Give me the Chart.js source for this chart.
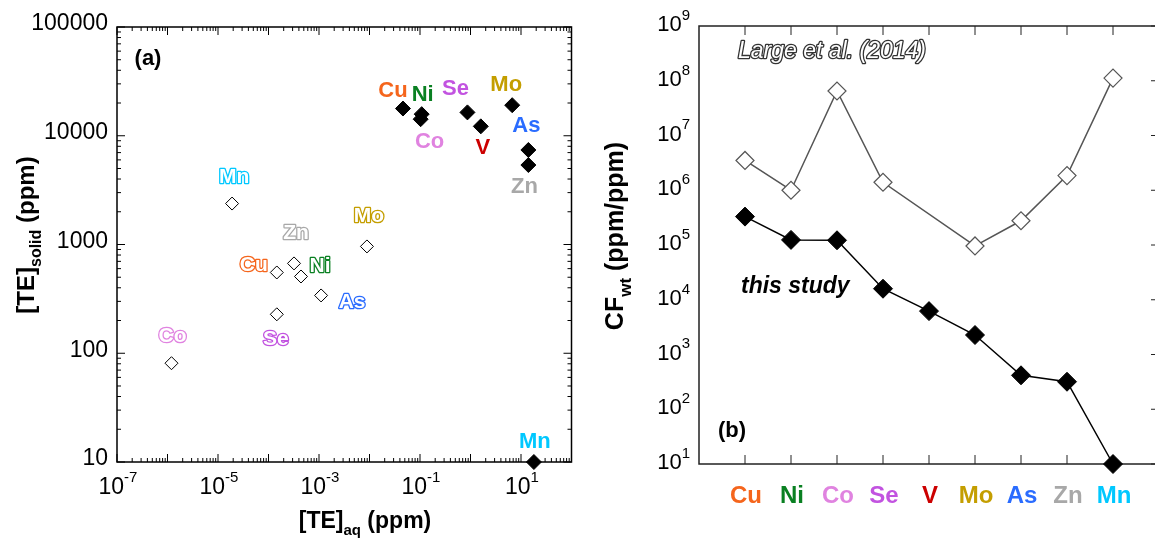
<!DOCTYPE html>
<html>
<head>
<meta charset="utf-8">
<script src="https://cdn.jsdelivr.net/npm/chart.js@4.4.1/dist/chart.umd.min.js"></script>
<style>
html, body { margin: 0; padding: 0; background: #fff; overflow: hidden; width: 1155px; height: 544px; }
canvas { position: absolute; top: 0; }
#left { left: 0; }
#right { left: 580px; }
</style>
</head>
<body>
<canvas id="left" width="580" height="544"></canvas>
<canvas id="right" width="600" height="544"></canvas>
<script>
// ====== DATA ======
const elements = ['Cu', 'Ni', 'Co', 'Se', 'V', 'Mo', 'As', 'Zn', 'Mn'];
const elementColors = ['#f5651c', '#0a8022', '#e083e0', '#c253e0', '#cc0000', '#c49e00', '#2a6cff', '#a8a8a8', '#00c8ff'];

// (a) this study (filled)
const aqThis = [0.046, 0.108, 0.103, 0.87, 1.6, 6.7, 14, 14, 18];
const solidThis = [17800, 15800, 14200, 16400, 12200, 19100, 7400, 5380, 10];
// (a) Large et al. (2014) (open), no V
const aqLarge = [1.46e-4, 4.4e-4, 1.2e-6, 1.46e-4, null, 8.9e-3, 1.1e-3, 3.2e-4, 1.9e-5];
const solidLarge = [553, 508, 81, 228, null, 960, 340, 670, 2380];

// (b) CF wt
const cfThis = [3.3e5, 1.24e5, 1.22e5, 1.59e4, 6.2e3, 2.27e3, 417, 318, 10];
const cfLarge = [3.5e6, 1.0e6, 6.5e7, 1.4e6, null, 9.6e4, 2.77e5, 1.85e6, 1.12e8];

// label offsets (px) from the marker, panel (a)
const offThis = [[-10, -18], [1, -19], [9, 23], [-12, -23], [2, 22], [-6, -20], [-2, -24], [-4, 22], [1, -20]];
const offLarge = [[-23, -7], [19, -10], [1, -27], [-1, 25], null, [2, -30], [31, 7], [2, -30], [2, -26]];

const FONT = '"Liberation Sans", Arial, Helvetica, sans-serif';

// ====== HELPERS ======
function supText(ctx, base, sup, x, y, align, size) {
  const supSize = Math.round(size * 0.66);
  ctx.font = size + 'px ' + FONT;
  const wb = ctx.measureText(base).width;
  ctx.font = supSize + 'px ' + FONT;
  const ws = ctx.measureText(sup).width;
  let x0 = x;
  if (align === 'right') x0 = x - wb - ws;
  else if (align === 'center') x0 = x - (wb + ws) / 2;
  ctx.textAlign = 'left';
  ctx.textBaseline = 'middle';
  ctx.fillStyle = '#000';
  ctx.font = size + 'px ' + FONT;
  ctx.fillText(base, x0, y);
  ctx.font = supSize + 'px ' + FONT;
  ctx.fillText(sup, x0 + wb, y - size * 0.42);
}

// bold title with subscript parts, centred on (cx, cy)
function subTitle(ctx, parts, cx, cy, size) {
  const subSize = Math.round(size * 0.66);
  let total = 0;
  parts.forEach(p => {
    ctx.font = 'bold ' + (p.sub ? subSize : size) + 'px ' + FONT;
    p.w = ctx.measureText(p.t).width;
    total += p.w;
  });
  let x = cx - total / 2;
  ctx.textAlign = 'left';
  ctx.textBaseline = 'middle';
  ctx.fillStyle = '#000';
  parts.forEach(p => {
    ctx.font = 'bold ' + (p.sub ? subSize : size) + 'px ' + FONT;
    ctx.fillText(p.t, x, p.sub ? cy + size * 0.4 : cy);
    x += p.w;
  });
}

function outlineText(ctx, txt, x, y, color, font, align) {
  ctx.font = font;
  ctx.textAlign = align || 'center';
  ctx.textBaseline = 'middle';
  ctx.lineJoin = 'round';
  ctx.lineWidth = 2.6;
  ctx.strokeStyle = color;
  ctx.strokeText(txt, x, y);
  ctx.fillStyle = '#fff';
  ctx.fillText(txt, x, y);
}

function line(ctx, x1, y1, x2, y2) {
  ctx.beginPath();
  ctx.moveTo(x1, y1);
  ctx.lineTo(x2, y2);
  ctx.stroke();
}

// ====== PANEL (a) ======
const leftDecor = {
  id: 'leftDecor',
  beforeDatasetsDraw(chart) {
    const { ctx, chartArea: a, scales: { x, y } } = chart;
    ctx.save();
    ctx.strokeStyle = '#000';
    ctx.lineWidth = 1.5;
    ctx.strokeRect(a.left, a.top, a.right - a.left, a.bottom - a.top);
    ctx.lineWidth = 1;
    for (let e = -7; e <= 2; e++) {
      for (let m = 1; m <= 9; m++) {
        const v = m * Math.pow(10, e);
        if (v > 100.0001) break;
        const px = x.getPixelForValue(v);
        const len = m === 1 ? 8 : 4;
        line(ctx, px, a.bottom, px, a.bottom - len);
        line(ctx, px, a.top, px, a.top + len);
      }
    }
    for (let e = 1; e <= 5; e++) {
      for (let m = 1; m <= 9; m++) {
        const v = m * Math.pow(10, e);
        if (v > 100000.1) break;
        const py = y.getPixelForValue(v);
        const len = m === 1 ? 8 : 4;
        line(ctx, a.left, py, a.left + len, py);
        line(ctx, a.right, py, a.right - len, py);
      }
    }
    ctx.restore();
  },
  afterDraw(chart) {
    const { ctx, chartArea: a, scales: { x, y } } = chart;
    ctx.save();
    // y tick labels
    ctx.fillStyle = '#000';
    ctx.font = '23px ' + FONT;
    ctx.textAlign = 'right';
    ctx.textBaseline = 'middle';
    [10, 100, 1000, 10000, 100000].forEach(v => {
      ctx.fillText(String(v), 108, y.getPixelForValue(v) - 3);
    });
    // x tick labels
    [-7, -5, -3, -1, 1].forEach(e => {
      supText(ctx, '10', String(e), x.getPixelForValue(Math.pow(10, e)) + 1, 488, 'center', 23);
    });
    // axis titles
    subTitle(ctx, [{ t: '[TE]' }, { t: 'aq', sub: true }, { t: ' (ppm)' }], 365, 522, 23);
    ctx.save();
    ctx.translate(27, 235);
    ctx.rotate(-Math.PI / 2);
    subTitle(ctx, [{ t: '[TE]' }, { t: 'solid', sub: true }, { t: ' (ppm)' }], 0, 0, 24);
    ctx.restore();
    // panel letter
    ctx.fillStyle = '#000';
    ctx.font = 'bold 22px ' + FONT;
    ctx.textAlign = 'center';
    ctx.textBaseline = 'middle';
    ctx.fillText('(a)', 148, 59);
    // element labels
    elements.forEach((el, i) => {
      const o = offThis[i];
      ctx.fillStyle = elementColors[i];
      ctx.font = 'bold 22px ' + FONT;
      ctx.textAlign = 'center';
      ctx.fillText(el, x.getPixelForValue(aqThis[i]) + o[0], y.getPixelForValue(solidThis[i]) + o[1]);
      if (aqLarge[i] != null) {
        const q = offLarge[i];
        outlineText(ctx, el, x.getPixelForValue(aqLarge[i]) + q[0], y.getPixelForValue(solidLarge[i]) + q[1],
          elementColors[i], 'bold 21px ' + FONT);
      }
    });
    ctx.restore();
  }
};

function pairs(xs, ys) {
  return xs.map((v, i) => ({ x: v, y: ys[i] })).filter(p => p.x != null && p.y != null);
}

new Chart(document.getElementById('left'), {
  type: 'scatter',
  data: {
    datasets: [
      {
        label: 'Large et al. (2014)',
        data: pairs(aqLarge, solidLarge),
        pointStyle: 'rectRot',
        pointRadius: 6.5,
        backgroundColor: '#fff',
        borderColor: '#000',
        borderWidth: 1,
        clip: false
      },
      {
        label: 'this study',
        data: pairs(aqThis, solidThis),
        pointStyle: 'rectRot',
        pointRadius: 7.5,
        backgroundColor: '#000',
        borderColor: '#000',
        borderWidth: 1,
        clip: false
      }
    ]
  },
  options: {
    responsive: false,
    animation: false,
    events: [],
    layout: { padding: { left: 117, top: 27, right: 3, bottom: 82 } },
    plugins: { legend: { display: false }, tooltip: { enabled: false } },
    scales: {
      x: { type: 'logarithmic', min: 1e-7, max: 100, display: false },
      y: { type: 'logarithmic', min: 10, max: 1e5, display: false }
    }
  },
  plugins: [leftDecor]
});

// ====== PANEL (b) ======
const rightDecor = {
  id: 'rightDecor',
  beforeDatasetsDraw(chart) {
    const { ctx, chartArea: a, scales: { x, y } } = chart;
    ctx.save();
    ctx.strokeStyle = '#222';
    ctx.lineWidth = 1.5;
    ctx.strokeRect(a.left, a.top, a.right - a.left, a.bottom - a.top);
    ctx.lineWidth = 1;
    elements.forEach((el, i) => {
      const px = x.getPixelForValue(i);
      line(ctx, px, a.bottom, px, a.bottom - 9);
      line(ctx, px, a.top, px, a.top + 9);
    });
    for (let e = 1; e <= 9; e++) {
      const py = y.getPixelForValue(Math.pow(10, e));
      line(ctx, a.right, py, a.right - 8, py);
    }
    ctx.restore();
  },
  afterDraw(chart) {
    const { ctx, chartArea: a, scales: { x, y } } = chart;
    ctx.save();
    // y tick labels
    for (let e = 1; e <= 9; e++) {
      supText(ctx, '10', String(e), a.left - 9, y.getPixelForValue(Math.pow(10, e)) - 1, 'right', 22);
    }
    // category labels
    ctx.font = 'bold 24px ' + FONT;
    ctx.textAlign = 'center';
    ctx.textBaseline = 'middle';
    elements.forEach((el, i) => {
      ctx.fillStyle = elementColors[i];
      ctx.fillText(el, x.getPixelForValue(i) + 1, 496);
    });
    // y title
    ctx.save();
    ctx.translate(36, 236);
    ctx.rotate(-Math.PI / 2);
    subTitle(ctx, [{ t: 'CF' }, { t: 'wt', sub: true }, { t: ' (ppm/ppm)' }], 0, 0, 25);
    ctx.restore();
    // annotations
    outlineText(ctx, 'Large et al. (2014)', 158, 52, '#333', 'italic 23px ' + FONT, 'left');
    ctx.fillStyle = '#000';
    ctx.textAlign = 'left';
    ctx.textBaseline = 'middle';
    ctx.font = 'italic bold 23px ' + FONT;
    ctx.fillText('this study', 161, 287);
    ctx.font = 'bold 22px ' + FONT;
    ctx.textAlign = 'center';
    ctx.fillText('(b)', 152, 431);
    ctx.restore();
  }
};

const idx = elements.map((el, i) => i);

new Chart(document.getElementById('right'), {
  type: 'line',
  data: {
    datasets: [
      {
        label: 'Large et al. (2014)',
        data: idx.map(i => ({ x: i, y: cfLarge[i] })),
        spanGaps: true,
        borderColor: '#555',
        borderWidth: 1.5,
        pointStyle: 'rectRot',
        pointRadius: 9,
        pointBackgroundColor: '#fff',
        pointBorderColor: '#555',
        pointBorderWidth: 1.2,
        clip: false
      },
      {
        label: 'this study',
        data: idx.map(i => ({ x: i, y: cfThis[i] })),
        borderColor: '#000',
        borderWidth: 1.5,
        pointStyle: 'rectRot',
        pointRadius: 9.5,
        pointBackgroundColor: '#000',
        pointBorderColor: '#000',
        pointBorderWidth: 1,
        clip: false
      }
    ]
  },
  options: {
    responsive: false,
    animation: false,
    events: [],
    layout: { padding: { left: 119, top: 26, right: 21, bottom: 80 } },
    plugins: { legend: { display: false }, tooltip: { enabled: false } },
    scales: {
      x: { type: 'linear', min: -1, max: 9, display: false },
      y: { type: 'logarithmic', min: 10, max: 1e9, display: false }
    }
  },
  plugins: [rightDecor]
});
</script>
</body>
</html>
